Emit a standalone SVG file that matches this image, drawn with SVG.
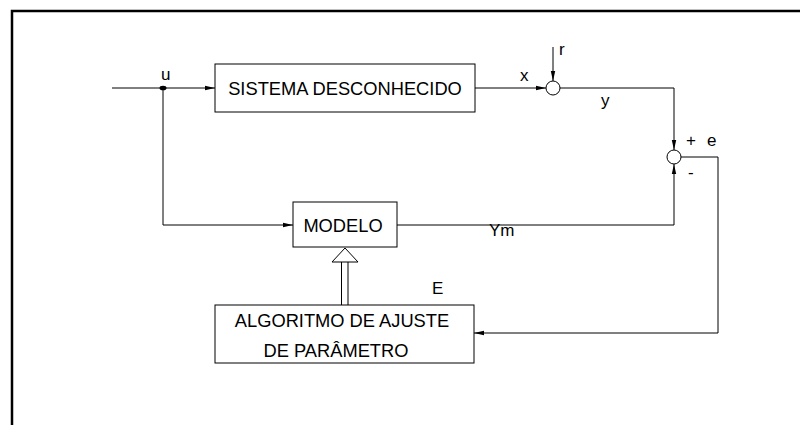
<svg xmlns="http://www.w3.org/2000/svg" width="800" height="425" viewBox="0 0 800 425">
<defs>
<style>
.ln{fill:none;stroke:#000;stroke-width:1}
.box{fill:#fff;stroke:#000;stroke-width:1}
.t{font-family:"Liberation Sans",Arial,sans-serif;font-size:18.3px;fill:#000;text-anchor:middle}
.l{font-family:"Liberation Sans",Arial,sans-serif;font-size:17px;fill:#000}
</style>
<marker id="ah" viewBox="0 0 10 6" refX="10" refY="3" markerWidth="10" markerHeight="6" markerUnits="userSpaceOnUse" orient="auto">
<path d="M0,0.8 L10,3 L0,5.2 z" fill="#000"/>
</marker>
</defs>
<rect width="800" height="425" fill="#fff"/>
<path d="M12,425 V11 H800" fill="none" stroke="#000" stroke-width="2.5"/>
<g id="connectors">
<line class="ln" x1="112" y1="88" x2="215" y2="88" marker-end="url(#ah)"/>
<ellipse cx="163" cy="88" rx="3.5" ry="2.3" fill="#000"/>
<path class="ln" d="M163,88 V225 H293" marker-end="url(#ah)"/>
<line class="ln" x1="475" y1="88" x2="546" y2="88" marker-end="url(#ah)"/>
<line class="ln" x1="553" y1="47" x2="553" y2="81" marker-end="url(#ah)"/>
<path class="ln" d="M560,88 H674 V150" marker-end="url(#ah)"/>
<path class="ln" d="M397,225 H674 V164" marker-end="url(#ah)"/>
<path class="ln" d="M681,157 H718 V333 H474" marker-end="url(#ah)"/>
<line class="ln" x1="341.5" y1="262" x2="341.5" y2="305"/>
<line class="ln" x1="348" y1="262" x2="348" y2="305"/>
<polygon points="345,248 332,262 358,262" fill="#fff" stroke="#000" stroke-width="1"/>
</g>
<g id="sum1"><circle cx="553" cy="88" r="7" class="box"/></g>
<g id="sum2"><circle cx="674" cy="157" r="7" class="box"/></g>
<g id="sistema">
<rect class="box" x="215" y="64" width="260" height="48"/>
<text class="t" x="345" y="95">SISTEMA DESCONHECIDO</text>
</g>
<g id="modelo">
<rect class="box" x="293" y="202" width="104" height="45"/>
<text class="t" x="343" y="232">MODELO</text>
</g>
<g id="algoritmo">
<rect class="box" x="215" y="305" width="259" height="58"/>
<text class="t" x="342" y="327">ALGORITMO DE AJUSTE</text>
<text class="t" x="336" y="357">DE PARÂMETRO</text>
</g>
<g id="labels">
<text class="l" x="161" y="80">u</text>
<text class="l" x="520" y="81">x</text>
<text class="l" x="559" y="55">r</text>
<text class="l" x="601" y="106">y</text>
<text class="l" x="686" y="146">+</text>
<text class="l" x="707" y="146">e</text>
<text class="l" x="688" y="178">-</text>
<text class="l" x="489" y="236">Ym</text>
<text class="l" x="432" y="294">E</text>
</g>
</svg>
